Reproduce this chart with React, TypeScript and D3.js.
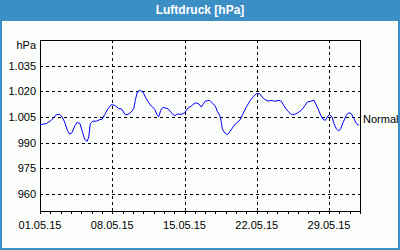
import React from "react";
import * as d3 from "d3";

const title = "Luftdruck [hPa]";
const unitLabel = "hPa";
const normalLabel = "Normal";
const normalValue = 1004;

// hours since 01.05.2015 00:00
const hours = [
  0, 14.6, 26.3, 37.9, 45.8, 51.2, 57.4, 63.5, 69.1, 74.4, 80.7, 86.7, 93.0, 98.3, 103.9, 110.0,
  113.2, 117.0, 123.2, 130.9, 138.8, 144.2, 150.4, 158.1, 165.8, 173.7, 183.7, 189.0, 198.3,
  204.6, 212.3, 217.9, 221.6, 226.2, 231.8, 239.5, 244.8, 252.7, 258.8, 266.7, 272.7, 276.0,
  280.6, 286.0, 297.6, 305.3, 313.2, 319.2, 328.5, 336.4, 344.1, 351.8, 361.1, 369.7, 375.0,
  384.3, 394.6, 402.2, 407.6, 412.2, 417.8, 421.5, 423.8, 427.8, 435.5, 441.0, 448.7, 456.4,
  464.3, 472.0, 479.6, 487.6, 495.2, 502.9, 510.8, 516.2, 522.4, 530.1, 536.4, 545.7, 555.7,
  561.0, 568.9, 576.6, 584.3, 592.2, 599.9, 607.5, 615.4, 621.5, 630.8, 637.1, 641.0, 646.4,
  652.6, 658.0, 663.3, 669.6, 673.6, 678.9, 683.6, 688.9, 694.5, 699.1, 704.5, 712.2, 717.7,
  723.8, 730.1, 735.4, 741.7,
];

const pressure = [
  1000.5, 1001.1, 1003.0, 1006.3, 1006.5, 1005.0, 1002.0, 997.2, 994.9, 995.8, 999.7, 1001.9,
  1001.1, 996.6, 991.9, 990.8, 993.3, 1001.1, 1002.6, 1002.5, 1003.4, 1003.6, 1006.3, 1009.8,
  1012.2, 1011.8, 1009.8, 1009.8, 1006.3, 1006.5, 1007.9, 1009.8, 1014.7, 1019.6, 1020.6,
  1019.6, 1016.7, 1013.3, 1011.4, 1009.5, 1006.0, 1005.1, 1008.9, 1010.6, 1009.8, 1007.5,
  1005.7, 1006.7, 1006.5, 1007.5, 1010.2, 1011.4, 1013.3, 1012.6, 1010.8, 1014.3, 1014.7,
  1012.7, 1011.4, 1008.3, 1006.0, 1002.0, 998.1, 996.2, 994.6, 996.2, 999.1, 1001.5, 1003.0,
  1006.9, 1010.8, 1014.2, 1016.7, 1018.6, 1018.6, 1016.7, 1015.3, 1014.2, 1014.7, 1014.2,
  1014.7, 1014.2, 1010.8, 1008.3, 1006.5, 1006.5, 1007.5, 1008.9, 1011.4, 1013.7, 1014.3,
  1014.7, 1012.7, 1009.8, 1006.0, 1003.6, 1003.0, 1005.6, 1006.3, 1005.0, 1001.1, 998.1,
  996.8, 998.1, 1001.6, 1006.0, 1007.5, 1006.9, 1004.0, 1001.1, 1000.1,
];

const yTicks = [960, 975, 990, 1005, 1020, 1035];
const yTickLabels = ["960", "975", "990", "1.005", "1.020", "1.035"];
const xTickDays = [0, 7, 14, 21, 28];
const xTickLabels = ["01.05.15", "08.05.15", "15.05.15", "22.05.15", "29.05.15"];

const W = 400;
const H = 250;
const start = Date.UTC(2015, 4, 1);
const end = Date.UTC(2015, 5, 1);
const font = "'Liberation Sans', Arial, sans-serif";

export default function App() {
  const left = 40, right = 360, top = 40, bottom = 211;
  const x = d3.scaleUtc().domain([new Date(start), new Date(end)]).range([left, right]);
  const y = d3.scaleLinear().domain([950, 1050]).range([bottom, top]);
  const toDate = (h: number) => new Date(start + h * 3600e3);
  const data = hours.map((h, i) => ({ t: toDate(h), v: pressure[i] }));
  const line = d3
    .line<{ t: Date; v: number }>()
    .x((d) => x(d.t))
    .y((d) => y(d.v));
  const days = d3.utcDay.range(new Date(start), new Date(end + 1));

  return (
    <svg
      width={W}
      height={H}
      style={{ position: "absolute", left: 0, top: 0, display: "block" }}
      fontFamily={font}
    >
      <rect x={0} y={0} width={W} height={H} fill="#fbfdfb" />
      <rect x={1} y={1} width={W - 2} height={H - 2} fill="none" stroke="#3b8fc5" strokeWidth={2} />
      <rect x={0} y={0} width={W} height={21} fill="#3b8fc5" />
      <text x={W / 2} y={14} textAnchor="middle" fill="#fff" fontWeight="bold" fontSize={12}>
        {title}
      </text>

      {/* grid */}
      {yTicks.map((t) => (
        <line
          key={"gy" + t}
          x1={left}
          x2={right}
          y1={Math.round(y(t)) + 0.5}
          y2={Math.round(y(t)) + 0.5}
          stroke="#000"
          strokeDasharray="3,3"
          shapeRendering="crispEdges"
        />
      ))}
      {xTickDays.slice(1).map((d) => {
        const xx = Math.round(x(toDate(d * 24))) + 0.5;
        return (
          <line
            key={"gx" + d}
            x1={xx}
            x2={xx}
            y1={top}
            y2={bottom}
            stroke="#000"
            strokeDasharray="3,3"
            shapeRendering="crispEdges"
          />
        );
      })}

      {/* frame */}
      <rect
        x={left + 0.5}
        y={top + 0.5}
        width={right - left}
        height={bottom - top}
        fill="none"
        stroke="#000"
        shapeRendering="crispEdges"
      />

      {/* minor ticks */}
      {days.map((d, i) => {
        const xx = Math.round(x(d)) + 0.5;
        return (
          <line key={"mt" + i} x1={xx} x2={xx} y1={bottom} y2={bottom + 3} stroke="#000" shapeRendering="crispEdges" />
        );
      })}

      {/* y labels */}
      {yTicks.map((t, i) => (
        <text key={"yl" + t} x={36} y={y(t) + 4} textAnchor="end" fontSize={11} fill="#000">
          {yTickLabels[i]}
        </text>
      ))}
      <text x={36} y={49} textAnchor="end" fontSize={11} fill="#000">
        {unitLabel}
      </text>

      {/* x labels */}
      {xTickDays.map((d, i) => (
        <text key={"xl" + d} x={x(toDate(d * 24))} y={229} textAnchor="middle" fontSize={11} fill="#000">
          {xTickLabels[i]}
        </text>
      ))}

      <text x={363} y={y(normalValue) + 4} fontSize={11} fill="#000">
        {normalLabel}
      </text>

      <path d={line(data) || ""} fill="none" stroke="#0000ff" strokeWidth={1} />
    </svg>
  );
}
